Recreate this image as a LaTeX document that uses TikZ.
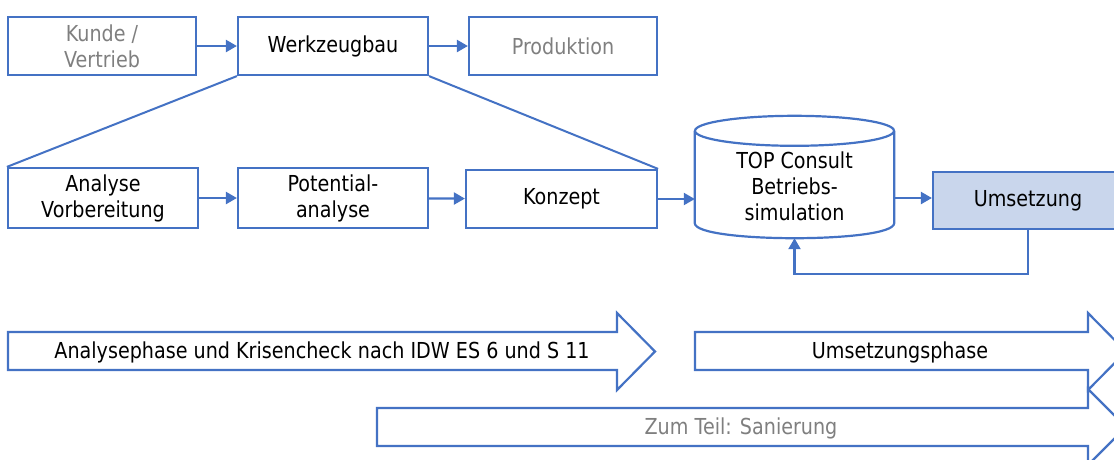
\documentclass[tikz,border=0pt]{standalone}
\usepackage{fontspec}
\setmainfont{DejaVu Sans}[FakeStretch=0.87]
\usetikzlibrary{arrows.meta,calc}
\definecolor{lineblue}{HTML}{4472C4}
\definecolor{fillblue}{HTML}{C9D6EC}
\definecolor{txtgray}{HTML}{7F7F7F}
\tikzset{
  box/.style={draw=lineblue, line width=2.2pt, minimum width=190pt, minimum height=58pt, align=center, font=\fontsize{22}{26}\selectfont, inner sep=2pt},
  conn/.style={draw=lineblue, line width=2.2pt, -{Triangle[length=11pt,width=12pt]}},
  plain/.style={draw=lineblue, line width=2pt},
  bigarrow/.style={draw=lineblue, line width=2.2pt, fill=white, line join=miter},
  lbl/.style={font=\fontsize{22}{26}\selectfont, align=center, inner sep=0pt},
  graytxt/.style={text=txtgray}
}
\begin{document}
\begin{tikzpicture}[x=1pt,y=-1pt]
\useasboundingbox (0,0) rectangle (1114,459);
\clip (0,0) rectangle (1114,459);
% top row
\node[box, graytxt, minimum width=188pt] (kunde) at (102,46) {Kunde /\\Vertrieb};
\node[box] (werk) at (333,46) {Werkzeugbau};
\node[box, graytxt, minimum width=188pt] (prod) at (563,46) {Produktion};
\draw[conn] (kunde) -- (werk);
\draw[conn] (werk) -- (prod);
% middle row
\node[box, minimum height=60pt] (analyse) at (103,198) {Analyse\\Vorbereitung};
\node[box, minimum height=60pt] (potential) at (333,198) {Potential-\\analyse};
\node[box, minimum width=191pt] (konzept) at (561.5,199) {Konzept};
\draw[plain] (werk.south west) -- (analyse.north west);
\draw[plain] (werk.south east) -- (konzept.north east);
\draw[conn] (analyse) -- (potential);
\draw[conn] (potential) -- (konzept);
% cylinder
\node[minimum width=199pt, minimum height=122pt, inner sep=0pt] (cyl) at (794.5,177) {};
\draw[draw=lineblue, line width=2.2pt, fill=white]
  ($(cyl.north west)+(0,15)$) -- ($(cyl.south west)+(0,-15)$)
  .. controls ($(cyl.south west)+(0,5)$) and ($(cyl.south east)+(0,5)$) .. ($(cyl.south east)+(0,-15)$)
  -- ($(cyl.north east)+(0,15)$);
\draw[draw=lineblue, line width=2.2pt] ($(cyl.north)+(0,15)$) ellipse [x radius=99.5, y radius=15];
\node[lbl] (cyltxt) at (794.5,186) {TOP Consult\\Betriebs-\\simulation};
\draw[conn] (konzept.east) -- (konzept.east -| cyl.west);
% Umsetzung
\node[box, fill=fillblue, minimum height=57pt] (umsetz) at (1028,200.5) {Umsetzung};
\draw[conn] ([yshift=2.5pt]umsetz.west -| cyl.east) -- ([yshift=2.5pt]umsetz.west);
\draw[conn] (umsetz.south) -- ++(0,44) -| (cyl.south);
% big arrows
\draw[bigarrow] (8,332) -- (617,332) -- (617,313) -- (655,351.5) -- (617,390) -- (617,370) -- (8,370) -- cycle;
\node[lbl] (phase1) at (322,352) {Analysephase und Krisencheck nach IDW ES 6 und S 11};
\draw[bigarrow] (695,332) -- (1088,332) -- (1088,313) -- (1126,351.5) -- (1088,390) -- (1088,370) -- (695,370) -- cycle;
\node[lbl] (phase2) at (900,352) {Umsetzungsphase};
\draw[bigarrow] (377,408) -- (1088,408) -- (1088,389) -- (1126,427) -- (1088,465) -- (1088,446) -- (377,446) -- cycle;
\node[lbl, graytxt] (phase3) at (741,428) {Zum Teil: Sanierung};
\end{tikzpicture}
\end{document}
